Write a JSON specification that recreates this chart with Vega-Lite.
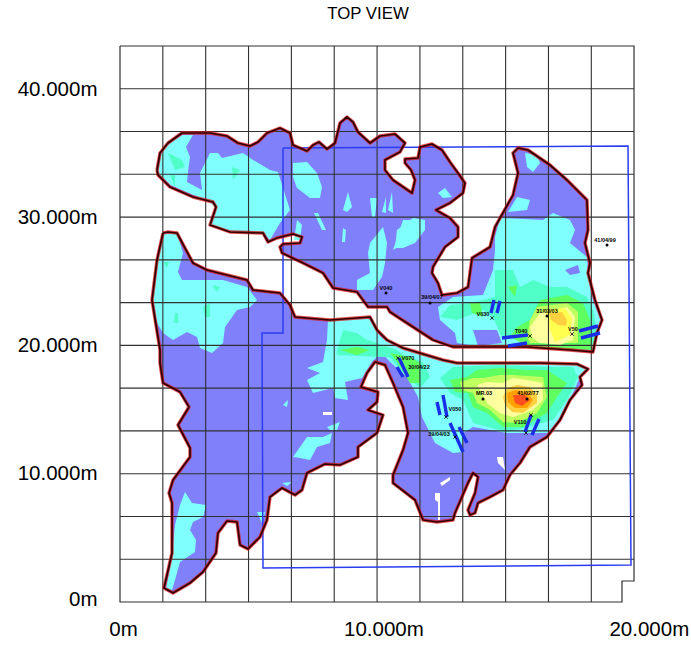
{"$schema":"https://vega.github.io/schema/vega-lite/v6.json","width":514,"height":556,"autosize":{"type":"none"},"padding":{"left":120,"top":46,"right":57,"bottom":43},"background":"white","config":{"view":{"stroke":null}},
"title":{"text":"TOP VIEW","font":"Liberation Sans","fontSize":16.8,"fontWeight":"normal","color":"#000","anchor":"middle","dx":-9,"offset":21},
"datasets":{
"land":[
{"poly":"n","x":1443,"y":33696},{"poly":"n","x":1560,"y":35022},{"poly":"n","x":1872,"y":35802},{"poly":"n","x":2418,"y":36582},{"poly":"n","x":3510,"y":36582},{"poly":"n","x":4173,"y":36348},{"poly":"n","x":4602,"y":35802},{"poly":"n","x":5070,"y":35568},{"poly":"n","x":5382,"y":35880},{"poly":"n","x":5733,"y":36582},{"poly":"n","x":6240,"y":36972},{"poly":"n","x":6630,"y":36582},{"poly":"n","x":6747,"y":35646},{"poly":"n","x":7293,"y":35178},{"poly":"n","x":7527,"y":35646},{"poly":"n","x":7761,"y":35880},{"poly":"n","x":8073,"y":35334},{"poly":"n","x":8385,"y":35802},{"poly":"n","x":8580,"y":37362},{"poly":"n","x":8853,"y":37830},{"poly":"n","x":9087,"y":37440},{"poly":"n","x":9282,"y":36660},{"poly":"n","x":9750,"y":35802},{"poly":"n","x":10140,"y":36348},{"poly":"n","x":10725,"y":36504},{"poly":"n","x":11115,"y":35802},{"poly":"n","x":10920,"y":35100},{"poly":"n","x":10335,"y":34476},{"poly":"n","x":10335,"y":33696},{"poly":"n","x":10647,"y":32916},{"poly":"n","x":11388,"y":31902},{"poly":"n","x":11505,"y":32916},{"poly":"n","x":11349,"y":33696},{"poly":"n","x":11115,"y":34242},{"poly":"n","x":11115,"y":34554},{"poly":"n","x":11622,"y":34632},{"poly":"n","x":11700,"y":35490},{"poly":"n","x":12168,"y":35724},{"poly":"n","x":12558,"y":35256},{"poly":"n","x":12870,"y":34320},{"poly":"n","x":13182,"y":33462},{"poly":"n","x":13455,"y":32682},{"poly":"n","x":13377,"y":31902},{"poly":"n","x":12870,"y":31122},{"poly":"n","x":12324,"y":30576},{"poly":"n","x":12870,"y":29952},{"poly":"n","x":13182,"y":29250},{"poly":"n","x":13182,"y":28470},{"poly":"n","x":12675,"y":27690},{"poly":"n","x":12207,"y":26130},{"poly":"n","x":12168,"y":25662},{"poly":"n","x":12402,"y":24882},{"poly":"n","x":12558,"y":23946},{"poly":"n","x":13143,"y":24102},{"poly":"n","x":13572,"y":24570},{"poly":"n","x":13728,"y":26832},{"poly":"n","x":14430,"y":27690},{"poly":"n","x":14625,"y":29250},{"poly":"n","x":15327,"y":31746},{"poly":"n","x":15522,"y":33462},{"poly":"n","x":15327,"y":35022},{"poly":"n","x":15522,"y":35412},{"poly":"n","x":15912,"y":35256},{"poly":"n","x":16770,"y":34086},{"poly":"n","x":17433,"y":32916},{"poly":"n","x":18213,"y":31356},{"poly":"n","x":18252,"y":29016},{"poly":"n","x":18135,"y":28002},{"poly":"n","x":18330,"y":26442},{"poly":"n","x":18252,"y":25662},{"poly":"n","x":18525,"y":23556},{"poly":"n","x":18798,"y":21996},{"poly":"n","x":18603,"y":20982},{"poly":"n","x":18447,"y":19500},{"poly":"n","x":17550,"y":19656},{"poly":"n","x":15873,"y":19890},{"poly":"n","x":14157,"y":19890},{"poly":"n","x":12987,"y":19890},{"poly":"n","x":12207,"y":20436},{"poly":"n","x":11427,"y":21450},{"poly":"n","x":10530,"y":22620},{"poly":"n","x":10413,"y":23010},{"poly":"n","x":9672,"y":23010},{"poly":"n","x":9243,"y":24180},{"poly":"n","x":8307,"y":24492},{"poly":"n","x":7917,"y":25662},{"poly":"n","x":7137,"y":26442},{"poly":"n","x":6318,"y":27222},{"poly":"n","x":6240,"y":27690},{"poly":"n","x":6357,"y":27924},{"poly":"n","x":7020,"y":28002},{"poly":"n","x":7098,"y":28470},{"poly":"n","x":6747,"y":28704},{"poly":"n","x":6123,"y":28392},{"poly":"n","x":5772,"y":28080},{"poly":"n","x":5577,"y":28782},{"poly":"n","x":4290,"y":28860},{"poly":"n","x":3510,"y":29406},{"poly":"n","x":3744,"y":30810},{"poly":"n","x":3627,"y":31200},{"poly":"n","x":2847,"y":31590},{"poly":"n","x":1950,"y":32370},{"poly":"n","x":1482,"y":33306},{"poly":"n","x":1443,"y":33696},
{"poly":"s","x":1677,"y":28782},{"poly":"s","x":1872,"y":28860},{"poly":"s","x":2223,"y":28782},{"poly":"s","x":2847,"y":26442},{"poly":"s","x":3393,"y":25896},{"poly":"s","x":4953,"y":25116},{"poly":"s","x":5187,"y":24336},{"poly":"s","x":6240,"y":24102},{"poly":"s","x":6630,"y":23166},{"poly":"s","x":6825,"y":22230},{"poly":"s","x":8190,"y":21996},{"poly":"s","x":9750,"y":22230},{"poly":"s","x":10023,"y":21216},{"poly":"s","x":10413,"y":20436},{"poly":"s","x":11037,"y":19812},{"poly":"s","x":12597,"y":18876},{"poly":"s","x":13143,"y":18642},{"poly":"s","x":15093,"y":18642},{"poly":"s","x":16380,"y":18642},{"poly":"s","x":17823,"y":18564},{"poly":"s","x":18252,"y":18174},{"poly":"s","x":17940,"y":17550},{"poly":"s","x":18018,"y":16926},{"poly":"s","x":17550,"y":15756},{"poly":"s","x":17160,"y":14196},{"poly":"s","x":16653,"y":12870},{"poly":"s","x":15990,"y":12090},{"poly":"s","x":15600,"y":10842},{"poly":"s","x":15210,"y":9906},{"poly":"s","x":14937,"y":8736},{"poly":"s","x":14430,"y":8190},{"poly":"s","x":13962,"y":7722},{"poly":"s","x":13845,"y":6942},{"poly":"s","x":13650,"y":6786},{"poly":"s","x":13572,"y":7176},{"poly":"s","x":13845,"y":8502},{"poly":"s","x":13962,"y":9750},{"poly":"s","x":13767,"y":10062},{"poly":"s","x":13572,"y":9282},{"poly":"s","x":13065,"y":6942},{"poly":"s","x":12987,"y":6396},{"poly":"s","x":12363,"y":6240},{"poly":"s","x":11817,"y":6396},{"poly":"s","x":11505,"y":7956},{"poly":"s","x":10647,"y":9282},{"poly":"s","x":10647,"y":9906},{"poly":"s","x":11037,"y":11856},{"poly":"s","x":11232,"y":13182},{"poly":"s","x":11037,"y":15210},{"poly":"s","x":10647,"y":17082},{"poly":"s","x":10335,"y":18486},{"poly":"s","x":9945,"y":18720},{"poly":"s","x":9633,"y":17862},{"poly":"s","x":9399,"y":16770},{"poly":"s","x":10062,"y":16380},{"poly":"s","x":10023,"y":15600},{"poly":"s","x":9672,"y":14976},{"poly":"s","x":10257,"y":14586},{"poly":"s","x":10023,"y":13182},{"poly":"s","x":9282,"y":12090},{"poly":"s","x":9282,"y":11310},{"poly":"s","x":8580,"y":10686},{"poly":"s","x":7995,"y":10764},{"poly":"s","x":7293,"y":10062},{"poly":"s","x":7098,"y":8736},{"poly":"s","x":6825,"y":8346},{"poly":"s","x":6318,"y":8892},{"poly":"s","x":5850,"y":8190},{"poly":"s","x":5733,"y":6396},{"poly":"s","x":5460,"y":5070},{"poly":"s","x":4992,"y":4134},{"poly":"s","x":4680,"y":4446},{"poly":"s","x":4563,"y":6240},{"poly":"s","x":4173,"y":6318},{"poly":"s","x":3822,"y":5382},{"poly":"s","x":3744,"y":3822},{"poly":"s","x":3237,"y":2340},{"poly":"s","x":2730,"y":1482},{"poly":"s","x":2067,"y":702},{"poly":"s","x":1716,"y":1092},{"poly":"s","x":2028,"y":3822},{"poly":"s","x":2028,"y":7722},{"poly":"s","x":1911,"y":8502},{"poly":"s","x":2067,"y":9516},{"poly":"s","x":2730,"y":11310},{"poly":"s","x":2730,"y":12012},{"poly":"s","x":2262,"y":13806},{"poly":"s","x":2691,"y":15210},{"poly":"s","x":2340,"y":16380},{"poly":"s","x":1677,"y":17082},{"poly":"s","x":1560,"y":18642},{"poly":"s","x":1560,"y":19656},{"poly":"s","x":1248,"y":23556},{"poly":"s","x":1443,"y":26676},{"poly":"s","x":1677,"y":28782}
],
"bands":[
{"poly":"c1","band":"cyan","x":2418,"y":36426},{"poly":"c1","band":"cyan","x":2847,"y":36426},{"poly":"c1","band":"cyan","x":2574,"y":35490},{"poly":"c1","band":"cyan","x":2730,"y":34710},{"poly":"c1","band":"cyan","x":2652,"y":33540},{"poly":"c1","band":"cyan","x":2613,"y":32760},{"poly":"c1","band":"cyan","x":3198,"y":32136},{"poly":"c1","band":"cyan","x":3120,"y":33462},{"poly":"c1","band":"cyan","x":3510,"y":35022},{"poly":"c1","band":"cyan","x":3822,"y":35022},{"poly":"c1","band":"cyan","x":3978,"y":34632},{"poly":"c1","band":"cyan","x":4797,"y":35022},{"poly":"c1","band":"cyan","x":5187,"y":34476},{"poly":"c1","band":"cyan","x":5850,"y":33696},{"poly":"c1","band":"cyan","x":6162,"y":33540},{"poly":"c1","band":"cyan","x":6630,"y":30576},{"poly":"c1","band":"cyan","x":6240,"y":29562},{"poly":"c1","band":"cyan","x":5850,"y":28236},{"poly":"c1","band":"cyan","x":5538,"y":28860},{"poly":"c1","band":"cyan","x":4290,"y":28860},{"poly":"c1","band":"cyan","x":3510,"y":29406},{"poly":"c1","band":"cyan","x":3744,"y":30810},{"poly":"c1","band":"cyan","x":3315,"y":31356},{"poly":"c1","band":"cyan","x":1950,"y":32526},{"poly":"c1","band":"cyan","x":1482,"y":33462},{"poly":"c1","band":"cyan","x":1560,"y":35022},{"poly":"c1","band":"cyan","x":2028,"y":36036},
{"poly":"c2","band":"cyan","x":6747,"y":34242},{"poly":"c2","band":"cyan","x":7293,"y":34320},{"poly":"c2","band":"cyan","x":7683,"y":33462},{"poly":"c2","band":"cyan","x":7878,"y":32370},{"poly":"c2","band":"cyan","x":7800,"y":31512},{"poly":"c2","band":"cyan","x":7410,"y":31512},{"poly":"c2","band":"cyan","x":6903,"y":32292},{"poly":"c2","band":"cyan","x":6747,"y":33150},
{"poly":"c3","band":"cyan","x":8697,"y":30576},{"poly":"c3","band":"cyan","x":8892,"y":31980},{"poly":"c3","band":"cyan","x":9048,"y":30810},{"poly":"c3","band":"cyan","x":8853,"y":30420},
{"poly":"c4","band":"cyan","x":9750,"y":31512},{"poly":"c4","band":"cyan","x":10023,"y":31512},{"poly":"c4","band":"cyan","x":9945,"y":30030},{"poly":"c4","band":"cyan","x":9828,"y":30030},
{"poly":"c5","band":"cyan","x":10218,"y":30420},{"poly":"c5","band":"cyan","x":10374,"y":31590},{"poly":"c5","band":"cyan","x":10374,"y":30342},
{"poly":"c6","band":"cyan","x":10452,"y":30576},{"poly":"c6","band":"cyan","x":10608,"y":31980},{"poly":"c6","band":"cyan","x":10647,"y":30342},
{"poly":"c7","band":"cyan","x":8658,"y":28080},{"poly":"c7","band":"cyan","x":8697,"y":29172},{"poly":"c7","band":"cyan","x":8814,"y":29016},{"poly":"c7","band":"cyan","x":8775,"y":28080},
{"poly":"c8","band":"cyan","x":9750,"y":28002},{"poly":"c8","band":"cyan","x":10257,"y":29250},{"poly":"c8","band":"cyan","x":10413,"y":28002},{"poly":"c8","band":"cyan","x":10335,"y":26442},{"poly":"c8","band":"cyan","x":10218,"y":25350},{"poly":"c8","band":"cyan","x":9867,"y":24336},{"poly":"c8","band":"cyan","x":9243,"y":24336},{"poly":"c8","band":"cyan","x":9243,"y":25116},{"poly":"c8","band":"cyan","x":9750,"y":25662},{"poly":"c8","band":"cyan","x":9672,"y":27222},
{"poly":"c9","band":"cyan","x":10647,"y":27456},{"poly":"c9","band":"cyan","x":11037,"y":29796},{"poly":"c9","band":"cyan","x":11310,"y":29796},{"poly":"c9","band":"cyan","x":11310,"y":28236},
{"poly":"c10","band":"cyan","x":10725,"y":27612},{"poly":"c10","band":"cyan","x":10803,"y":29016},{"poly":"c10","band":"cyan","x":11427,"y":29952},{"poly":"c10","band":"cyan","x":11895,"y":29796},{"poly":"c10","band":"cyan","x":11895,"y":29016},{"poly":"c10","band":"cyan","x":11505,"y":28002},{"poly":"c10","band":"cyan","x":11037,"y":27612},
{"poly":"c11","band":"cyan","x":6786,"y":28236},{"poly":"c11","band":"cyan","x":6903,"y":29796},{"poly":"c11","band":"cyan","x":7098,"y":29406},{"poly":"c11","band":"cyan","x":7020,"y":28236},
{"poly":"c11b","band":"cyan","x":7566,"y":30342},{"poly":"c11b","band":"cyan","x":7722,"y":30342},{"poly":"c11b","band":"cyan","x":8034,"y":29016},{"poly":"c11b","band":"cyan","x":7878,"y":29016},
{"poly":"c12","band":"cyan","x":15795,"y":35022},{"poly":"c12","band":"cyan","x":16263,"y":34866},{"poly":"c12","band":"cyan","x":16380,"y":34242},{"poly":"c12","band":"cyan","x":16107,"y":33540},{"poly":"c12","band":"cyan","x":15873,"y":33930},
{"poly":"c13","band":"cyan","x":15132,"y":30420},{"poly":"c13","band":"cyan","x":15483,"y":31590},{"poly":"c13","band":"cyan","x":15990,"y":31356},{"poly":"c13","band":"cyan","x":15873,"y":30576},
{"poly":"c14","band":"cyan","x":12402,"y":31902},{"poly":"c14","band":"cyan","x":12675,"y":32292},{"poly":"c14","band":"cyan","x":12948,"y":31590},{"poly":"c14","band":"cyan","x":12597,"y":31512},
{"poly":"c15","band":"cyan","x":14625,"y":28470},{"poly":"c15","band":"cyan","x":14820,"y":29952},{"poly":"c15","band":"cyan","x":16497,"y":29796},{"poly":"c15","band":"cyan","x":16887,"y":30342},{"poly":"c15","band":"cyan","x":17550,"y":29796},{"poly":"c15","band":"cyan","x":17745,"y":29016},{"poly":"c15","band":"cyan","x":17550,"y":28002},{"poly":"c15","band":"cyan","x":18213,"y":26910},{"poly":"c15","band":"cyan","x":18252,"y":25662},{"poly":"c15","band":"cyan","x":18447,"y":23556},{"poly":"c15","band":"cyan","x":18759,"y":21996},{"poly":"c15","band":"cyan","x":18447,"y":19656},{"poly":"c15","band":"cyan","x":15873,"y":19890},{"poly":"c15","band":"cyan","x":13650,"y":20046},{"poly":"c15","band":"cyan","x":13143,"y":20202},{"poly":"c15","band":"cyan","x":13065,"y":20982},{"poly":"c15","band":"cyan","x":12480,"y":21996},{"poly":"c15","band":"cyan","x":12402,"y":23010},{"poly":"c15","band":"cyan","x":12987,"y":23790},{"poly":"c15","band":"cyan","x":14157,"y":23946},{"poly":"c15","band":"cyan","x":14547,"y":25896},{"poly":"c15","band":"cyan","x":14625,"y":27456},
{"poly":"h1","band":"land","x":13767,"y":21216},{"poly":"h1","band":"land","x":14703,"y":21216},{"poly":"h1","band":"land","x":14898,"y":20202},{"poly":"h1","band":"land","x":13962,"y":19968},
{"poly":"h2","band":"land","x":17355,"y":25896},{"poly":"h2","band":"land","x":17862,"y":26286},{"poly":"h2","band":"land","x":17940,"y":25662},{"poly":"h2","band":"land","x":17550,"y":25506},
{"poly":"a10","band":"aqua","x":14625,"y":25896},{"poly":"a10","band":"aqua","x":15327,"y":25896},{"poly":"a10","band":"aqua","x":15600,"y":24570},{"poly":"a10","band":"aqua","x":16107,"y":25116},{"poly":"a10","band":"aqua","x":16770,"y":24570},{"poly":"a10","band":"aqua","x":17433,"y":24570},{"poly":"a10","band":"aqua","x":18213,"y":23790},{"poly":"a10","band":"aqua","x":18447,"y":22776},{"poly":"a10","band":"aqua","x":18603,"y":21216},{"poly":"a10","band":"aqua","x":18447,"y":19656},{"poly":"a10","band":"aqua","x":16263,"y":19890},{"poly":"a10","band":"aqua","x":15210,"y":20670},{"poly":"a10","band":"aqua","x":14898,"y":20670},{"poly":"a10","band":"aqua","x":14547,"y":22230},{"poly":"a10","band":"aqua","x":14157,"y":22776},{"poly":"a10","band":"aqua","x":13143,"y":21996},{"poly":"a10","band":"aqua","x":12480,"y":22230},{"poly":"a10","band":"aqua","x":12870,"y":23166},{"poly":"a10","band":"aqua","x":13650,"y":23322},{"poly":"a10","band":"aqua","x":14625,"y":23790},
{"poly":"g1","band":"green","x":16380,"y":23556},{"poly":"g1","band":"green","x":17433,"y":23946},{"poly":"g1","band":"green","x":18057,"y":23322},{"poly":"g1","band":"green","x":18330,"y":21996},{"poly":"g1","band":"green","x":18408,"y":19656},{"poly":"g1","band":"green","x":15990,"y":19890},{"poly":"g1","band":"green","x":15210,"y":20670},{"poly":"g1","band":"green","x":15483,"y":21450},{"poly":"g1","band":"green","x":15990,"y":21996},
{"poly":"g2","band":"green","x":15132,"y":24570},{"poly":"g2","band":"green","x":15483,"y":24726},{"poly":"g2","band":"green","x":15405,"y":23790},
{"poly":"g3","band":"green","x":13650,"y":23322},{"poly":"g3","band":"green","x":14040,"y":23322},{"poly":"g3","band":"green","x":14157,"y":22230},{"poly":"g3","band":"green","x":13728,"y":22542},
{"poly":"l1","band":"lime","x":16263,"y":23010},{"poly":"l1","band":"lime","x":17433,"y":23322},{"poly":"l1","band":"lime","x":17862,"y":22620},{"poly":"l1","band":"lime","x":17862,"y":20202},{"poly":"l1","band":"lime","x":15990,"y":20202},{"poly":"l1","band":"lime","x":15873,"y":20670},{"poly":"l1","band":"lime","x":15990,"y":21996},
{"poly":"p1","band":"pale","x":15990,"y":21450},{"poly":"p1","band":"pale","x":16380,"y":22542},{"poly":"p1","band":"pale","x":17433,"y":23010},{"poly":"p1","band":"pale","x":17745,"y":22230},{"poly":"p1","band":"pale","x":17667,"y":20436},{"poly":"p1","band":"pale","x":17160,"y":20046},{"poly":"p1","band":"pale","x":16380,"y":20202},{"poly":"p1","band":"pale","x":16068,"y":20670},
{"poly":"y1","band":"yellow","x":16575,"y":22776},{"poly":"y1","band":"yellow","x":17355,"y":22932},{"poly":"y1","band":"yellow","x":17628,"y":22152},{"poly":"y1","band":"yellow","x":17550,"y":20826},{"poly":"y1","band":"yellow","x":16965,"y":20280},{"poly":"y1","band":"yellow","x":16770,"y":21216},{"poly":"y1","band":"yellow","x":16692,"y":21996},
{"poly":"o1","band":"gold","x":16731,"y":22542},{"poly":"o1","band":"gold","x":17238,"y":22620},{"poly":"o1","band":"gold","x":17433,"y":21996},{"poly":"o1","band":"gold","x":17394,"y":21528},{"poly":"o1","band":"gold","x":17082,"y":21606},{"poly":"o1","band":"gold","x":16809,"y":21996},
{"poly":"c16","band":"cyan","x":10023,"y":19890},{"poly":"c16","band":"cyan","x":10530,"y":18720},{"poly":"c16","band":"cyan","x":11193,"y":17550},{"poly":"c16","band":"cyan","x":11622,"y":15990},{"poly":"c16","band":"cyan","x":11778,"y":14430},{"poly":"c16","band":"cyan","x":12285,"y":12402},{"poly":"c16","band":"cyan","x":12987,"y":11622},{"poly":"c16","band":"cyan","x":13377,"y":11700},{"poly":"c16","band":"cyan","x":13377,"y":13182},{"poly":"c16","band":"cyan","x":13767,"y":13650},{"poly":"c16","band":"cyan","x":15093,"y":13182},{"poly":"c16","band":"cyan","x":15990,"y":13182},{"poly":"c16","band":"cyan","x":16653,"y":13182},{"poly":"c16","band":"cyan","x":17043,"y":13962},{"poly":"c16","band":"cyan","x":17550,"y":15756},{"poly":"c16","band":"cyan","x":17940,"y":17550},{"poly":"c16","band":"cyan","x":18252,"y":18174},{"poly":"c16","band":"cyan","x":17823,"y":18564},{"poly":"c16","band":"cyan","x":15093,"y":18642},{"poly":"c16","band":"cyan","x":13143,"y":18642},{"poly":"c16","band":"cyan","x":11037,"y":19812},{"poly":"c16","band":"cyan","x":10140,"y":20670},{"poly":"c16","band":"cyan","x":9945,"y":21450},
{"poly":"c17","band":"cyan","x":8112,"y":21996},{"poly":"c17","band":"cyan","x":9750,"y":22152},{"poly":"c17","band":"cyan","x":10023,"y":21060},{"poly":"c17","band":"cyan","x":10452,"y":20046},{"poly":"c17","band":"cyan","x":9828,"y":18720},{"poly":"c17","band":"cyan","x":9438,"y":17472},{"poly":"c17","band":"cyan","x":8775,"y":17160},{"poly":"c17","band":"cyan","x":8892,"y":15756},{"poly":"c17","band":"cyan","x":8385,"y":15912},{"poly":"c17","band":"cyan","x":8307,"y":16692},{"poly":"c17","band":"cyan","x":7527,"y":16302},{"poly":"c17","band":"cyan","x":7293,"y":17316},{"poly":"c17","band":"cyan","x":7800,"y":17862},{"poly":"c17","band":"cyan","x":7293,"y":18252},{"poly":"c17","band":"cyan","x":7917,"y":18720},{"poly":"c17","band":"cyan","x":8073,"y":20436},
{"poly":"c18","band":"cyan","x":1677,"y":28782},{"poly":"c18","band":"cyan","x":2223,"y":28782},{"poly":"c18","band":"cyan","x":2457,"y":27222},{"poly":"c18","band":"cyan","x":2262,"y":25740},{"poly":"c18","band":"cyan","x":2418,"y":25116},{"poly":"c18","band":"cyan","x":3237,"y":25116},{"poly":"c18","band":"cyan","x":4017,"y":25116},{"poly":"c18","band":"cyan","x":4953,"y":24570},{"poly":"c18","band":"cyan","x":5343,"y":23556},{"poly":"c18","band":"cyan","x":5070,"y":23010},{"poly":"c18","band":"cyan","x":4563,"y":22776},{"poly":"c18","band":"cyan","x":4095,"y":21450},{"poly":"c18","band":"cyan","x":4017,"y":20202},{"poly":"c18","band":"cyan","x":3588,"y":19422},{"poly":"c18","band":"cyan","x":3120,"y":19812},{"poly":"c18","band":"cyan","x":3003,"y":20670},{"poly":"c18","band":"cyan","x":2613,"y":21060},{"poly":"c18","band":"cyan","x":2067,"y":20436},{"poly":"c18","band":"cyan","x":1677,"y":20982},{"poly":"c18","band":"cyan","x":1443,"y":21762},{"poly":"c18","band":"cyan","x":1248,"y":23556},{"poly":"c18","band":"cyan","x":1443,"y":26676},
{"poly":"c19","band":"cyan","x":2535,"y":8580},{"poly":"c19","band":"cyan","x":2808,"y":7722},{"poly":"c19","band":"cyan","x":3354,"y":7566},{"poly":"c19","band":"cyan","x":3237,"y":6630},{"poly":"c19","band":"cyan","x":2847,"y":6240},{"poly":"c19","band":"cyan","x":2730,"y":5616},{"poly":"c19","band":"cyan","x":2964,"y":4836},{"poly":"c19","band":"cyan","x":2925,"y":3900},{"poly":"c19","band":"cyan","x":2340,"y":3120},{"poly":"c19","band":"cyan","x":2145,"y":1716},{"poly":"c19","band":"cyan","x":2028,"y":936},{"poly":"c19","band":"cyan","x":1794,"y":1092},{"poly":"c19","band":"cyan","x":2028,"y":3666},{"poly":"c19","band":"cyan","x":2145,"y":6006},{"poly":"c19","band":"cyan","x":2340,"y":7566},
{"poly":"c20","band":"cyan","x":6747,"y":11310},{"poly":"c20","band":"cyan","x":7293,"y":12870},{"poly":"c20","band":"cyan","x":7917,"y":12870},{"poly":"c20","band":"cyan","x":8268,"y":13182},{"poly":"c20","band":"cyan","x":8190,"y":12402},{"poly":"c20","band":"cyan","x":7683,"y":12090},{"poly":"c20","band":"cyan","x":7410,"y":11076},{"poly":"c20","band":"cyan","x":7020,"y":11232},
{"poly":"c21","band":"cyan","x":8073,"y":13650},{"poly":"c21","band":"cyan","x":8580,"y":14040},{"poly":"c21","band":"cyan","x":8463,"y":13416},{"poly":"c21","band":"cyan","x":8190,"y":13416},
{"poly":"c22","band":"cyan","x":6357,"y":15366},{"poly":"c22","band":"cyan","x":6552,"y":15756},{"poly":"c22","band":"cyan","x":6513,"y":15210},
{"poly":"c23","band":"cyan","x":5343,"y":7020},{"poly":"c23","band":"cyan","x":5655,"y":7020},{"poly":"c23","band":"cyan","x":5538,"y":6162},
{"poly":"c24","band":"cyan","x":6318,"y":9282},{"poly":"c24","band":"cyan","x":6708,"y":9360},{"poly":"c24","band":"cyan","x":6513,"y":9048},
{"poly":"w1","band":"white","x":7917,"y":14820},{"poly":"w1","band":"white","x":8268,"y":14820},{"poly":"w1","band":"white","x":8268,"y":14586},{"poly":"w1","band":"white","x":7917,"y":14586},
{"poly":"w2","band":"white","x":14703,"y":11310},{"poly":"w2","band":"white","x":14937,"y":11310},{"poly":"w2","band":"white","x":15015,"y":10296},{"poly":"w2","band":"white","x":14742,"y":10842},
{"poly":"w3","band":"white","x":12480,"y":9282},{"poly":"w3","band":"white","x":12870,"y":9750},{"poly":"w3","band":"white","x":12870,"y":9516},{"poly":"w3","band":"white","x":12558,"y":9048},
{"poly":"w4","band":"white","x":12285,"y":8502},{"poly":"w4","band":"white","x":12480,"y":8502},{"poly":"w4","band":"white","x":12480,"y":6396},{"poly":"w4","band":"white","x":12402,"y":6396},{"poly":"w4","band":"white","x":12402,"y":7800},{"poly":"w4","band":"white","x":12285,"y":7956},
{"poly":"a1","band":"aqua","x":1872,"y":35022},{"poly":"a1","band":"aqua","x":2418,"y":34476},{"poly":"a1","band":"aqua","x":2535,"y":33930},{"poly":"a1","band":"aqua","x":2145,"y":33696},
{"poly":"a2","band":"aqua","x":4368,"y":33930},{"poly":"a2","band":"aqua","x":4680,"y":33696},{"poly":"a2","band":"aqua","x":4407,"y":32916},
{"poly":"a3","band":"aqua","x":1950,"y":33306},{"poly":"a3","band":"aqua","x":2145,"y":33306},{"poly":"a3","band":"aqua","x":2145,"y":32370},
{"poly":"a4","band":"aqua","x":3588,"y":24726},{"poly":"a4","band":"aqua","x":3900,"y":24570},{"poly":"a4","band":"aqua","x":3783,"y":24180},
{"poly":"a5","band":"aqua","x":3237,"y":23010},{"poly":"a5","band":"aqua","x":3510,"y":23322},{"poly":"a5","band":"aqua","x":3510,"y":22230},{"poly":"a5","band":"aqua","x":3315,"y":22230},
{"poly":"a6","band":"aqua","x":2145,"y":22542},{"poly":"a6","band":"aqua","x":2262,"y":22542},{"poly":"a6","band":"aqua","x":2262,"y":21762},{"poly":"a6","band":"aqua","x":2106,"y":21762},
{"poly":"a7","band":"aqua","x":1677,"y":26520},{"poly":"a7","band":"aqua","x":1911,"y":26520},{"poly":"a7","band":"aqua","x":1833,"y":26052},
{"poly":"a8","band":"aqua","x":8697,"y":21216},{"poly":"a8","band":"aqua","x":9243,"y":20982},{"poly":"a8","band":"aqua","x":9633,"y":20436},{"poly":"a8","band":"aqua","x":10023,"y":20202},{"poly":"a8","band":"aqua","x":10803,"y":19656},{"poly":"a8","band":"aqua","x":11193,"y":19032},{"poly":"a8","band":"aqua","x":8463,"y":19266},{"poly":"a8","band":"aqua","x":8463,"y":19656},
{"poly":"g4","band":"green","x":8580,"y":19656},{"poly":"g4","band":"green","x":9243,"y":19890},{"poly":"g4","band":"green","x":9750,"y":19656},{"poly":"g4","band":"green","x":9243,"y":19266},
{"poly":"a9","band":"aqua","x":10218,"y":19812},{"poly":"a9","band":"aqua","x":11817,"y":18720},{"poly":"a9","band":"aqua","x":12090,"y":17550},{"poly":"a9","band":"aqua","x":11700,"y":16692},{"poly":"a9","band":"aqua","x":11193,"y":17550},
{"poly":"g5","band":"green","x":10530,"y":19422},{"poly":"g5","band":"green","x":11310,"y":19110},{"poly":"g5","band":"green","x":11700,"y":18642},{"poly":"g5","band":"green","x":11700,"y":17082},{"poly":"g5","band":"green","x":11310,"y":17082},{"poly":"g5","band":"green","x":10842,"y":18642},
{"poly":"a11","band":"aqua","x":12480,"y":17472},{"poly":"a11","band":"aqua","x":12987,"y":18330},{"poly":"a11","band":"aqua","x":14820,"y":18486},{"poly":"a11","band":"aqua","x":16887,"y":18330},{"poly":"a11","band":"aqua","x":17667,"y":18330},{"poly":"a11","band":"aqua","x":17862,"y":17550},{"poly":"a11","band":"aqua","x":17433,"y":15756},{"poly":"a11","band":"aqua","x":16887,"y":14196},{"poly":"a11","band":"aqua","x":15873,"y":13650},{"poly":"a11","band":"aqua","x":15093,"y":13260},{"poly":"a11","band":"aqua","x":13767,"y":13962},{"poly":"a11","band":"aqua","x":13377,"y":15756},{"poly":"a11","band":"aqua","x":12870,"y":16302},
{"poly":"g6","band":"green","x":12870,"y":17316},{"poly":"g6","band":"green","x":13533,"y":17550},{"poly":"g6","band":"green","x":13923,"y":18096},{"poly":"g6","band":"green","x":14820,"y":18252},{"poly":"g6","band":"green","x":15873,"y":18096},{"poly":"g6","band":"green","x":16653,"y":18096},{"poly":"g6","band":"green","x":17433,"y":17082},{"poly":"g6","band":"green","x":17043,"y":15990},{"poly":"g6","band":"green","x":16653,"y":14742},{"poly":"g6","band":"green","x":15717,"y":13650},{"poly":"g6","band":"green","x":14937,"y":13650},{"poly":"g6","band":"green","x":14313,"y":14742},{"poly":"g6","band":"green","x":13767,"y":15210},{"poly":"g6","band":"green","x":13572,"y":16302},{"poly":"g6","band":"green","x":13065,"y":16380},
{"poly":"l2","band":"lime","x":13260,"y":17160},{"poly":"l2","band":"lime","x":13767,"y":17472},{"poly":"l2","band":"lime","x":14157,"y":17472},{"poly":"l2","band":"lime","x":14820,"y":17706},{"poly":"l2","band":"lime","x":15327,"y":17706},{"poly":"l2","band":"lime","x":16497,"y":17550},{"poly":"l2","band":"lime","x":16653,"y":15990},{"poly":"l2","band":"lime","x":16263,"y":14742},{"poly":"l2","band":"lime","x":15483,"y":13962},{"poly":"l2","band":"lime","x":14937,"y":14040},{"poly":"l2","band":"lime","x":14430,"y":14976},{"poly":"l2","band":"lime","x":13923,"y":15522},{"poly":"l2","band":"lime","x":13767,"y":16302},{"poly":"l2","band":"lime","x":13338,"y":16536},
{"poly":"p2","band":"pale","x":13923,"y":16926},{"poly":"p2","band":"pale","x":14313,"y":17160},{"poly":"p2","band":"pale","x":14937,"y":17082},{"poly":"p2","band":"pale","x":15327,"y":17472},{"poly":"p2","band":"pale","x":15873,"y":17316},{"poly":"p2","band":"pale","x":16458,"y":17082},{"poly":"p2","band":"pale","x":16497,"y":15756},{"poly":"p2","band":"pale","x":16107,"y":14976},{"poly":"p2","band":"pale","x":15327,"y":14430},{"poly":"p2","band":"pale","x":14820,"y":14742},{"poly":"p2","band":"pale","x":14313,"y":15522},{"poly":"p2","band":"pale","x":14118,"y":16302},
{"poly":"y2","band":"gold","x":14937,"y":15990},{"poly":"y2","band":"gold","x":15093,"y":16692},{"poly":"y2","band":"gold","x":15483,"y":16926},{"poly":"y2","band":"gold","x":15990,"y":16770},{"poly":"y2","band":"gold","x":16263,"y":16146},{"poly":"y2","band":"gold","x":16263,"y":15522},{"poly":"y2","band":"gold","x":15717,"y":14742},{"poly":"y2","band":"gold","x":15288,"y":14820},{"poly":"y2","band":"gold","x":15015,"y":15366},
{"poly":"o2","band":"orange","x":15093,"y":16302},{"poly":"o2","band":"orange","x":15405,"y":16536},{"poly":"o2","band":"orange","x":15873,"y":16380},{"poly":"o2","band":"orange","x":16107,"y":15756},{"poly":"o2","band":"orange","x":15873,"y":15132},{"poly":"o2","band":"orange","x":15405,"y":15132},{"poly":"o2","band":"orange","x":15132,"y":15600},
{"poly":"r2","band":"red","x":15327,"y":16146},{"poly":"r2","band":"red","x":15795,"y":16146},{"poly":"r2","band":"red","x":15990,"y":15756},{"poly":"r2","band":"red","x":15678,"y":15288},{"poly":"r2","band":"red","x":15405,"y":15522}
],
"boundary":[{"x":6357,"y":35412},{"x":19812,"y":35568},{"x":19929,"y":2886},{"x":5577,"y":2652},{"x":5538,"y":20982},{"x":6357,"y":20982},{"x":6357,"y":35412}],
"frame":[{"x":0,"y":43368},{"x":20046,"y":43368},{"x":20046,"y":1638},{"x":19578,"y":1638},{"x":19578,"y":0},{"x":0,"y":0},{"x":0,"y":43368}],
"wells":[
{"well":"s1","x":14586,"y":23556},{"well":"s1","x":14469,"y":22542},{"well":"s2","x":14820,"y":23478},{"well":"s2","x":14703,"y":22542},{"well":"s3","x":14898,"y":20592},{"well":"s3","x":15912,"y":20826},{"well":"s4","x":15132,"y":19968},{"well":"s4","x":15873,"y":20202},{"well":"s5","x":17901,"y":21138},{"well":"s5","x":18642,"y":21528},{"well":"s6","x":17979,"y":20592},{"well":"s6","x":18720,"y":20982},{"well":"s7","x":10881,"y":19032},{"well":"s7","x":11232,"y":17550},{"well":"s8","x":10803,"y":18330},{"well":"s8","x":11037,"y":17550},{"well":"s9","x":12363,"y":15600},{"well":"s9","x":12480,"y":14586},{"well":"s10","x":12597,"y":16146},{"well":"s10","x":12753,"y":14430},{"well":"s11","x":12870,"y":13962},{"well":"s11","x":13377,"y":11700},{"well":"s12","x":13221,"y":13650},{"well":"s12","x":13533,"y":12402},{"well":"s13","x":16029,"y":14586},{"well":"s13","x":15795,"y":13260},{"well":"s14","x":16341,"y":14274},{"well":"s14","x":16068,"y":13026}],
"dots":[{"x":16653,"y":22308},{"x":18993,"y":27846},{"x":10374,"y":24102},{"x":12090,"y":23322},{"x":14157,"y":15834},{"x":15873,"y":15834}],
"crosses":[{"x":14508,"y":22152},{"x":15990,"y":20748},{"x":17628,"y":20904},{"x":10842,"y":19032},{"x":12714,"y":14430},{"x":13065,"y":12870},{"x":16029,"y":14586},{"x":15834,"y":13182}],
"labels":[{"label":"V030","x":14157,"y":22464},{"label":"T040","x":15639,"y":21138},{"label":"V50","x":17667,"y":21294},{"label":"31/03/03","x":16653,"y":22698},{"label":"41/04/99","x":18915,"y":28236},{"label":"V040","x":10374,"y":24492},{"label":"39/04/07","x":12168,"y":23790},{"label":"V070","x":11232,"y":19032},{"label":"30/04/22","x":11661,"y":18330},{"label":"MR.03","x":14196,"y":16302},{"label":"41/02/77","x":15912,"y":16302},{"label":"V050","x":13065,"y":15054},{"label":"39/04/03","x":12441,"y":13104},{"label":"V110","x":15600,"y":14040}],
"gridx":[{"x":1671},{"x":3342},{"x":5013},{"x":6684},{"x":8355},{"x":10026},{"x":11697},{"x":13368},{"x":15039},{"x":16710},{"x":18381}],
"gridy":[{"y":3336},{"y":6672},{"y":10008},{"y":13344},{"y":16680},{"y":20016},{"y":23352},{"y":26688},{"y":30024},{"y":33360},{"y":36696},{"y":40032}]
},
"layer":[
{"data":{"name":"land"},"mark":{"type":"line","order":false,"fill":"#8080fa","strokeWidth":0},"encoding":{
"x":{"field":"x","type":"quantitative","title":null,"scale":{"domain":[0,20046],"nice":false,"zero":false},"axis":{"values":[0,10000,20000],"domain":false,"ticks":false,"grid":false,"labelFont":"Liberation Sans","labelFontSize":20.5,"labelColor":"#000","labelPadding":17,"labelFlush":false,"labelBound":false,"labelOverlap":false,"labelExpr":"datum.value==0?'0m':(datum.value/1000)+'.000m'","labelOffset":{"expr":"datum.value==0?3:datum.value==10000?7:16"}}},
"y":{"field":"y","type":"quantitative","title":null,"scale":{"domain":[0,43368],"nice":false,"zero":false},"axis":{"values":[0,10000,20000,30000,40000],"domain":false,"ticks":false,"grid":false,"labelFont":"Liberation Sans","labelFontSize":20.5,"labelColor":"#000","labelPadding":23,"labelFlush":false,"labelBound":false,"labelOverlap":false,"labelExpr":"datum.value==0?'0m':(datum.value/1000)+'.000m'","labelOffset":{"expr":"datum.value==0?-3:0"}}},
"detail":{"field":"poly"}}},
{"data":{"name":"bands"},"mark":{"type":"line","order":false,"strokeWidth":0},"encoding":{
"x":{"field":"x","type":"quantitative"},"y":{"field":"y","type":"quantitative"},"detail":{"field":"poly"},
"fill":{"field":"band","type":"nominal","legend":null,"scale":{"domain":["land","cyan","aqua","green","lime","pale","yellow","gold","orange","red","white"],"range":["#8080fa","#80ffff","#50ffc8","#60ff60","#c0ff60","#ffffa0","#ffff50","#ffd040","#ffa000","#ff5020","#ffffff"]}}}},
{"data":{"name":"gridx"},"mark":{"type":"rule","color":"#303030","strokeWidth":1.1},"encoding":{"x":{"field":"x","type":"quantitative"}}},
{"data":{"name":"gridy"},"mark":{"type":"rule","color":"#303030","strokeWidth":1.1},"encoding":{"y":{"field":"y","type":"quantitative"}}},
{"data":{"name":"frame"},"mark":{"type":"line","order":false,"color":"#303030","strokeWidth":1.2},"encoding":{"x":{"field":"x","type":"quantitative"},"y":{"field":"y","type":"quantitative"}}},
{"data":{"name":"boundary"},"mark":{"type":"line","order":false,"color":"#2a3cf0","strokeWidth":1.5},"encoding":{"x":{"field":"x","type":"quantitative"},"y":{"field":"y","type":"quantitative"}}},
{"data":{"name":"land"},"mark":{"type":"line","order":false,"color":"#d81010","strokeWidth":3.4,"opacity":0.75,"strokeJoin":"round"},"encoding":{"x":{"field":"x","type":"quantitative"},"y":{"field":"y","type":"quantitative"},"detail":{"field":"poly"}}},
{"data":{"name":"land"},"mark":{"type":"line","order":false,"color":"#300000","strokeWidth":1.7,"strokeJoin":"round"},"encoding":{"x":{"field":"x","type":"quantitative"},"y":{"field":"y","type":"quantitative"},"detail":{"field":"poly"}}},
{"data":{"name":"wells"},"mark":{"type":"line","order":false,"color":"#1a2ee8","strokeWidth":3.4},"encoding":{"x":{"field":"x","type":"quantitative"},"y":{"field":"y","type":"quantitative"},"detail":{"field":"well"}}},
{"data":{"name":"dots"},"mark":{"type":"point","filled":true,"color":"#000","size":9,"opacity":1},"encoding":{"x":{"field":"x","type":"quantitative"},"y":{"field":"y","type":"quantitative"}}},
{"data":{"name":"crosses"},"mark":{"type":"point","shape":"M-1,-1L1,1M-1,1L1,-1","filled":false,"color":"#000","size":12,"strokeWidth":0.8,"opacity":1},"encoding":{"x":{"field":"x","type":"quantitative"},"y":{"field":"y","type":"quantitative"}}},
{"data":{"name":"labels"},"mark":{"type":"text","font":"Liberation Sans","fontSize":5.5,"fontWeight":"bold","color":"#000"},"encoding":{"x":{"field":"x","type":"quantitative"},"y":{"field":"y","type":"quantitative"},"text":{"field":"label"}}}
]}
